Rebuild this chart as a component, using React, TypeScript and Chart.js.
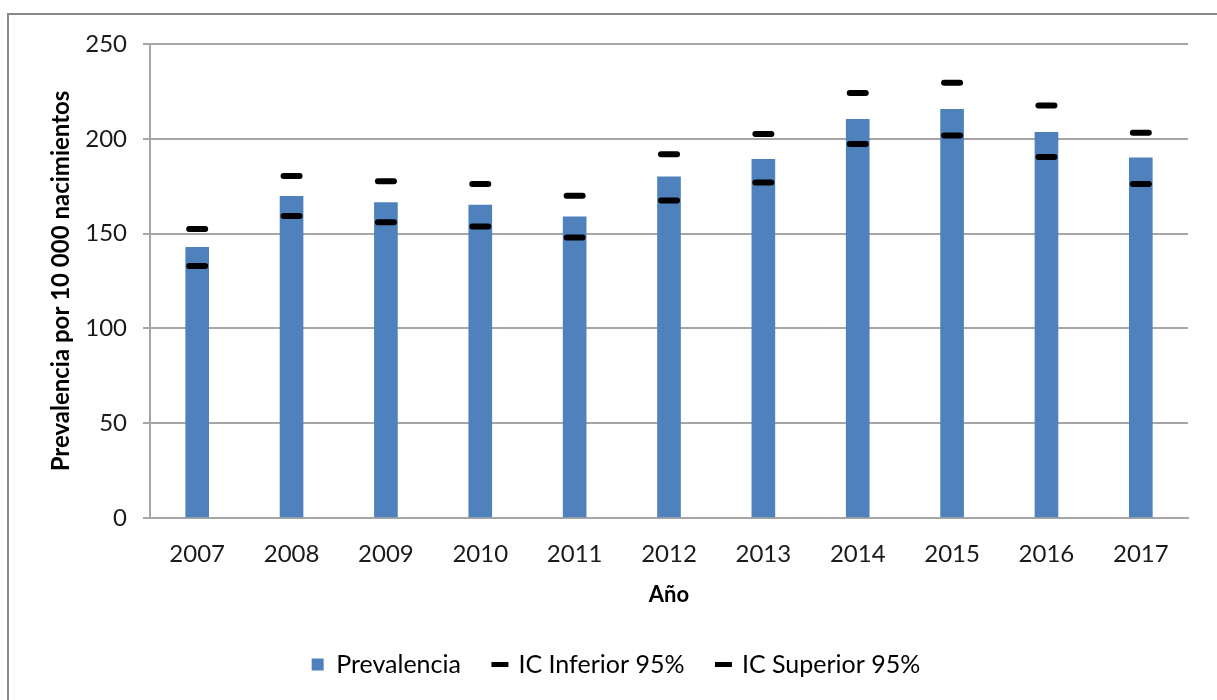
import React, { useEffect, useRef } from "react";
import { Chart, registerables } from "chart.js";

Chart.register(...registerables);

const years = ["2007", "2008", "2009", "2010", "2011", "2012", "2013", "2014", "2015", "2016", "2017"];
const prevalencia = [142.8, 169.7, 166.3, 165.1, 158.9, 179.9, 189.2, 210.3, 215.6, 203.4, 190.0];
const icInferior = [132.9, 159.3, 156.0, 153.8, 147.9, 167.4, 176.9, 197.3, 201.8, 190.4, 176.2];
const icSuperior = [152.4, 180.4, 177.6, 176.2, 170.0, 191.8, 202.5, 224.2, 229.6, 217.5, 203.2];

const BLUE = "#4f81bd";
const GRID = "#a6a6a6";
const FONT = "Lato";

// Rounded ends for the confidence-interval dashes
const roundCaps = {
  id: "roundCaps",
  beforeDatasetDraw(chart: any) {
    chart.ctx.lineCap = "round";
  },
  afterDatasetDraw(chart: any) {
    chart.ctx.lineCap = "butt";
  },
};

export default function App() {
  const canvasRef = useRef<HTMLCanvasElement | null>(null);

  useEffect(() => {
    const canvas = canvasRef.current;
    if (!canvas) return;
    const chart = new Chart(canvas, {
      type: "bar",
      data: {
        labels: years,
        datasets: [
          {
            type: "bar",
            label: "Prevalencia",
            data: prevalencia,
            backgroundColor: BLUE,
            barThickness: 23,
            order: 2,
          } as any,
          {
            type: "line",
            label: "IC Inferior 95%",
            data: icInferior,
            showLine: false,
            pointStyle: "line",
            pointRadius: 8,
            pointHoverRadius: 8,
            pointBorderWidth: 6,
            borderColor: "#000000",
            backgroundColor: "#000000",
            order: 1,
          } as any,
          {
            type: "line",
            label: "IC Superior 95%",
            data: icSuperior,
            showLine: false,
            pointStyle: "line",
            pointRadius: 8,
            pointHoverRadius: 8,
            pointBorderWidth: 6,
            borderColor: "#000000",
            backgroundColor: "#000000",
            order: 1,
          } as any,
        ],
      },
      options: {
        animation: false,
        responsive: false,
        maintainAspectRatio: false,
        layout: { padding: { left: 44, right: 29, top: 44, bottom: 13 } },
        plugins: {
          tooltip: { enabled: false },
          legend: {
            position: "bottom",
            labels: {
              usePointStyle: true,
              boxWidth: 12,
              boxHeight: 12,
              padding: 33,
              color: "#1a1a1a",
              font: { family: FONT, size: 25 },
              generateLabels: () => [
                { text: "Prevalencia", pointStyle: "rect", fillStyle: BLUE, strokeStyle: BLUE, lineWidth: 0, datasetIndex: 0, hidden: false },
                { text: "IC Inferior 95%", pointStyle: "line", fillStyle: "#000", strokeStyle: "#000", lineWidth: 5, datasetIndex: 1, hidden: false },
                { text: "IC Superior 95%", pointStyle: "line", fillStyle: "#000", strokeStyle: "#000", lineWidth: 5, datasetIndex: 2, hidden: false },
              ] as any,
            },
          },
        },
        scales: {
          x: {
            grid: { display: false },
            border: { color: GRID, width: 2 },
            ticks: { color: "#1a1a1a", font: { family: FONT, size: 24 }, padding: 14 },
            title: {
              display: true,
              text: "Año",
              color: "#000",
              font: { family: FONT, size: 22, weight: "bold" },
              padding: { top: 0, bottom: 11 },
            },
            afterFit: (scale: any) => {
              scale.height = 101;
            },
          },
          y: {
            min: 0,
            max: 250,
            ticks: { stepSize: 50, color: "#1a1a1a", font: { family: FONT, size: 24 }, padding: 16 },
            grid: { color: GRID, lineWidth: 2, tickLength: 7 },
            border: { color: GRID, width: 2 },
            title: {
              display: true,
              text: "Prevalencia por 10 000 nacimientos",
              color: "#000",
              font: { family: FONT, size: 24, weight: "bold" },
              padding: { top: 3, bottom: 0 },
            },
            afterFit: (scale: any) => {
              scale.width = 106;
            },
          },
        },
      },
      plugins: [roundCaps],
    });
    return () => chart.destroy();
  }, []);

  return (
    <div>
      <div
        style={{
          position: "fixed",
          left: 7,
          top: 13,
          width: 1300,
          height: 800,
          border: "2px solid #8a8a8a",
          boxSizing: "border-box",
          background: "#fff",
        }}
      />
      <canvas
        ref={canvasRef}
        width={1217}
        height={700}
        style={{ position: "fixed", left: 0, top: 0, width: 1217, height: 700 }}
      />
    </div>
  );
}
